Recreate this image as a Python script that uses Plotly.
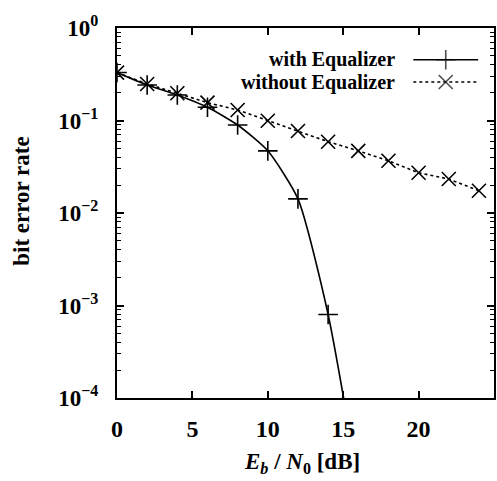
import plotly.graph_objects as go

# Data
snr_db = [0, 2, 4, 6, 8, 10, 12, 14, 16, 18, 20, 22, 24]
ber_with_eq_x = [0, 2, 4, 6, 8, 10, 12, 14, 16]
ber_with_eq = [0.33, 0.242, 0.189, 0.139, 0.0894, 0.047, 0.0142, 0.0008, 0.000012]
ber_without_eq = [0.329, 0.248, 0.197, 0.156, 0.130, 0.0995, 0.0769, 0.059, 0.047,
                  0.0367, 0.0272, 0.0233, 0.0174]
x_ticks = [0, 5, 10, 15, 20]
x_ticklabels = ["<b>0</b>", "<b>5</b>", "<b>10</b>", "<b>15</b>", "<b>20</b>"]
y_ticks = [1, 0.1, 0.01, 0.001, 0.0001]
y_ticklabels = ["<b>10<sup>0</sup></b>", "<b>10<sup>\u22121</sup></b>", "<b>10<sup>\u22122</sup></b>",
                "<b>10<sup>\u22123</sup></b>", "<b>10<sup>\u22124</sup></b>"]
legend_labels = ["with Equalizer", "without Equalizer"]
x_title = "<b><i>E<sub>b</sub></i> / <i>N</i><sub>0</sub> [dB]</b>"
y_title = "<b>bit error rate</b>"

FONT = "Liberation Serif"

fig = go.Figure()
fig.add_trace(go.Scatter(
    x=ber_with_eq_x, y=ber_with_eq, mode="lines+markers",
    line=dict(color="black", width=1.6, shape="spline", smoothing=0.6),
    marker=dict(symbol="cross-thin-open", size=14, line=dict(color="black", width=1.6)),
    showlegend=False, cliponaxis=True))
fig.add_trace(go.Scatter(
    x=snr_db, y=ber_without_eq, mode="lines+markers",
    line=dict(color="black", width=1.6, dash="3px,3px"),
    marker=dict(symbol="x-thin-open", size=14, line=dict(color="black", width=1.6)),
    showlegend=False, cliponaxis=True))

# custom gnuplot-style legend (text left of sample)
leg_x = [0.786, 0.872, 0.958]
leg_y = [0.914, 0.854]
fig.add_trace(go.Scatter(
    x=leg_x, y=[leg_y[0]] * 3, xaxis="x2", yaxis="y2", mode="lines+markers",
    line=dict(color="black", width=1.6),
    marker=dict(symbol="cross-thin-open", size=[0, 14, 0], line=dict(color="black", width=1.6)),
    showlegend=False, hoverinfo="skip"))
fig.add_trace(go.Scatter(
    x=leg_x, y=[leg_y[1]] * 3, xaxis="x2", yaxis="y2", mode="lines+markers",
    line=dict(color="black", width=1.6, dash="3px,3px"),
    marker=dict(symbol="x-thin-open", size=[0, 14, 0], line=dict(color="black", width=1.6)),
    showlegend=False, hoverinfo="skip"))
for lbl, yy in zip(legend_labels, leg_y):
    fig.add_annotation(x=0.742, y=yy, xref="paper", yref="paper", text="<b>%s</b>" % lbl,
                       showarrow=False, xanchor="right", yanchor="middle",
                       font=dict(family=FONT, size=20, color="black"))

# axis titles
fig.add_annotation(x=0.491, y=-0.176, xref="paper", yref="paper", text=x_title,
                   showarrow=False, xanchor="center", yanchor="middle",
                   font=dict(family=FONT, size=23, color="black"))
fig.add_annotation(x=-0.253, y=0.532, xref="paper", yref="paper", text=y_title,
                   showarrow=False, xanchor="center", yanchor="middle", textangle=-90,
                   font=dict(family=FONT, size=23, color="black"))

fig.update_layout(
    width=497, height=481,
    margin=dict(l=117, r=1, t=28, b=83),
    paper_bgcolor="white", plot_bgcolor="white",
    font=dict(family=FONT, color="black"),
    xaxis=dict(range=[0, 25], tickvals=x_ticks, ticktext=x_ticklabels,
               ticks="inside", ticklen=7, tickwidth=1.5, tickcolor="black",
               showline=True, linecolor="black", linewidth=2, mirror="ticks",
               showgrid=False, zeroline=False, ticklabelstandoff=8,
               tickfont=dict(family=FONT, size=24, color="black")),
    yaxis=dict(type="log", range=[-4, 0], tickvals=y_ticks, ticktext=y_ticklabels,
               ticks="inside", ticklen=7, tickwidth=1.5, tickcolor="black",
               showline=True, linecolor="black", linewidth=2, mirror="ticks",
               showgrid=False, zeroline=False, ticklabelstandoff=12,
               minor=dict(ticks="inside", ticklen=4, tickwidth=1, tickcolor="black",
                          dtick="D1", showgrid=False),
               tickfont=dict(family=FONT, size=23, color="black")),
    xaxis2=dict(range=[0, 1], overlaying="x", visible=False, fixedrange=True),
    yaxis2=dict(range=[0, 1], overlaying="y", visible=False, fixedrange=True),
)

fig.write_html("out.html")
